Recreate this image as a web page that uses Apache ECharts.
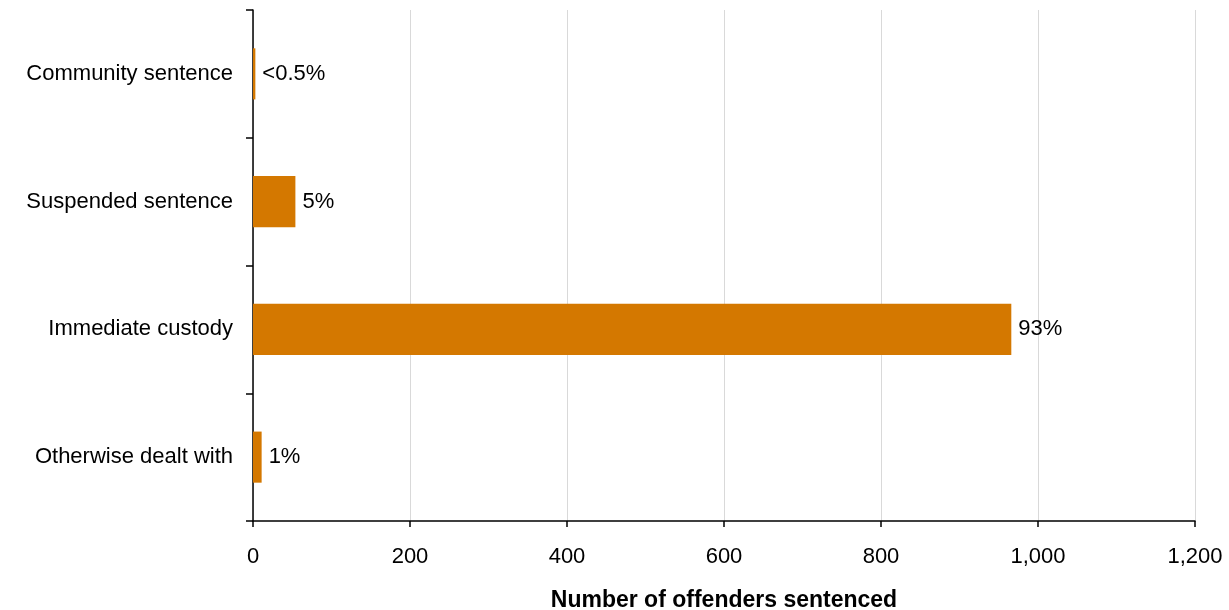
<!DOCTYPE html>
<html>
<head>
<meta charset="utf-8">
<script src="https://cdn.jsdelivr.net/npm/echarts@6/dist/echarts.min.js"></script>
<style>
  html, body { margin: 0; padding: 0; background: #fff; }
  #chart { width: 1229px; height: 610px; }
</style>
</head>
<body>
<div id="chart"></div>
<script>
// Sentence outcomes, listed top to bottom
const categories = ['Community sentence', 'Suspended sentence', 'Immediate custody', 'Otherwise dealt with'];
const offenders = [3, 54, 966, 11];
const shareLabels = ['<0.5%', '5%', '93%', '1%'];
const xTicks = [0, 200, 400, 600, 800, 1000, 1200];

const font = '"Liberation Sans", Arial, sans-serif';
const chart = echarts.init(document.getElementById('chart'), null, { renderer: 'canvas' });

chart.setOption({
  animation: false,
  backgroundColor: '#ffffff',
  grid: { left: 253, right: 34, top: 10, bottom: 89, containLabel: false, outerBoundsMode: 'none' },
  xAxis: {
    type: 'value',
    min: xTicks[0],
    max: xTicks[xTicks.length - 1],
    interval: xTicks[1] - xTicks[0],
    name: 'Number of offenders sentenced',
    nameLocation: 'middle',
    nameGap: 68,
    nameTextStyle: { fontFamily: font, fontSize: 23, fontWeight: 'bold', color: '#000' },
    axisLine: { show: true, lineStyle: { color: '#000', width: 1.5 } },
    axisTick: { show: true, length: 6, lineStyle: { color: '#000', width: 1.5 } },
    axisLabel: {
      fontFamily: font, fontSize: 22, color: '#000', margin: 25,
      formatter: v => v.toLocaleString('en-GB')
    },
    splitLine: { show: true, lineStyle: { color: '#d9d9d9', width: 1 } }
  },
  yAxis: {
    type: 'category',
    data: categories,
    inverse: true,
    axisLine: { show: true, lineStyle: { color: '#000', width: 1.5 } },
    axisTick: { show: true, length: 7, lineStyle: { color: '#000', width: 1.5 } },
    axisLabel: { fontFamily: font, fontSize: 22, color: '#000', margin: 20 },
    splitLine: { show: false }
  },
  series: [{
    type: 'bar',
    data: offenders,
    barCategoryGap: '60%',
    itemStyle: { color: '#d47800' },
    label: {
      show: true,
      position: 'right',
      distance: 7,
      fontFamily: font,
      fontSize: 22,
      color: '#000',
      formatter: p => shareLabels[p.dataIndex]
    }
  }]
});
</script>
</body>
</html>
